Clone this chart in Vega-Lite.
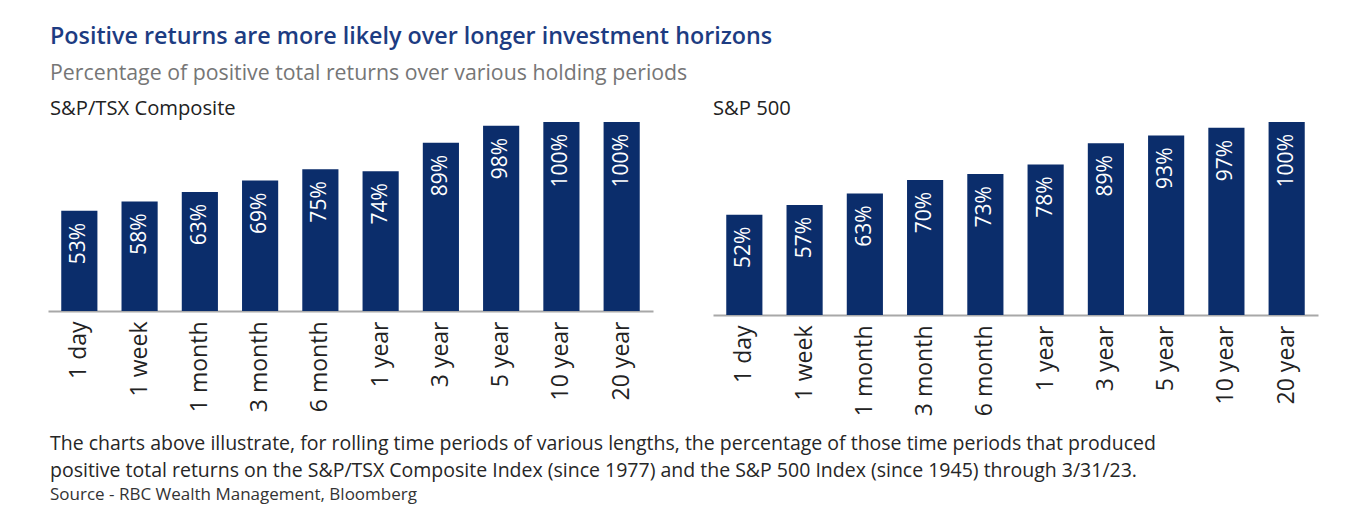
{
  "$schema": "https://vega.github.io/schema/vega-lite/v6.json",
  "background": "white",
  "padding": {"left": 48, "top": 25, "right": 10, "bottom": 5},
  "title": {
    "text": "Positive returns are more likely over longer investment horizons",
    "subtitle": "Percentage of positive total returns over various holding periods",
    "anchor": "start",
    "dx": 2,
    "font": "Open Sans",
    "fontSize": 23.3,
    "fontWeight": 600,
    "color": "#1d3c82",
    "subtitleFont": "Open Sans",
    "subtitleFontSize": 21.3,
    "subtitleColor": "#767676",
    "subtitlePadding": 13,
    "offset": 14
  },
  "datasets": {
    "tsx": [
      {"period": "1 day", "pct": 0.53},
      {"period": "1 week", "pct": 0.58},
      {"period": "1 month", "pct": 0.63},
      {"period": "3 month", "pct": 0.69},
      {"period": "6 month", "pct": 0.75},
      {"period": "1 year", "pct": 0.74},
      {"period": "3 year", "pct": 0.89},
      {"period": "5 year", "pct": 0.98},
      {"period": "10 year", "pct": 1.0},
      {"period": "20 year", "pct": 1.0}
    ],
    "spx": [
      {"period": "1 day", "pct": 0.52},
      {"period": "1 week", "pct": 0.57},
      {"period": "1 month", "pct": 0.63},
      {"period": "3 month", "pct": 0.70},
      {"period": "6 month", "pct": 0.73},
      {"period": "1 year", "pct": 0.78},
      {"period": "3 year", "pct": 0.89},
      {"period": "5 year", "pct": 0.93},
      {"period": "10 year", "pct": 0.97},
      {"period": "20 year", "pct": 1.0}
    ]
  },
  "config": {
    "view": {"stroke": null},
    "axis": {"labelFont": "Open Sans"}
  },
  "vconcat": [
    {
      "title": {
        "text": [
          "The charts above illustrate, for rolling time periods of various lengths, the percentage of those time periods that produced",
          "positive total returns on the S&P/TSX Composite Index (since 1977) and the S&P 500 Index (since 1945) through 3/31/23."
        ],
        "subtitle": "Source - RBC Wealth Management, Bloomberg",
        "orient": "bottom",
        "anchor": "start",
        "dx": 2,
        "font": "Open Sans",
        "fontSize": 19.5,
        "fontWeight": "normal",
        "lineHeight": 27,
        "color": "#262626",
        "subtitleFont": "Open Sans",
        "subtitleFontSize": 17,
        "subtitleFontWeight": 500,
        "subtitleColor": "#333333",
        "subtitlePadding": 6,
        "offset": 19
      },
      "spacing": 60,
      "hconcat": [
        {
          "title": {"text": "S&P/TSX Composite", "anchor": "start", "dx": 2, "font": "Open Sans", "fontSize": 20.2, "fontWeight": 500, "color": "#222222", "offset": 3},
          "width": 605,
          "height": 189,
          "data": {"name": "tsx"},
          "encoding": {
            "x": {
              "field": "period", "type": "nominal", "sort": null,
              "scale": {"paddingInner": 0.4, "paddingOuter": 0.22},
              "axis": {"title": null, "labelAngle": -90, "labelFontSize": 23, "labelColor": "#222222", "domainColor": "#a8a8a8", "domainWidth": 2, "ticks": false, "labelPadding": 10}
            },
            "y": {"field": "pct", "type": "quantitative", "scale": {"domain": [0, 1]}, "axis": null}
          },
          "layer": [
            {"mark": {"type": "bar", "color": "#0b2d6b"}},
            {
              "mark": {"type": "text", "angle": 270, "align": "right", "baseline": "middle", "dx": -12, "color": "white", "fontSize": 21, "font": "Open Sans"},
              "encoding": {"text": {"field": "pct", "type": "quantitative", "format": ".0%"}}
            }
          ]
        },
        {
          "title": {"text": "S&P 500", "anchor": "start", "dx": 0, "font": "Open Sans", "fontSize": 20.2, "fontWeight": 500, "color": "#222222", "offset": 3},
          "width": 605,
          "height": 193,
          "data": {"name": "spx"},
          "encoding": {
            "x": {
              "field": "period", "type": "nominal", "sort": null,
              "scale": {"paddingInner": 0.4, "paddingOuter": 0.22},
              "axis": {"title": null, "labelAngle": -90, "labelFontSize": 23, "labelColor": "#222222", "domainColor": "#a8a8a8", "domainWidth": 2, "ticks": false, "labelPadding": 10}
            },
            "y": {"field": "pct", "type": "quantitative", "scale": {"domain": [0, 1]}, "axis": null}
          },
          "layer": [
            {"mark": {"type": "bar", "color": "#0b2d6b"}},
            {
              "mark": {"type": "text", "angle": 270, "align": "right", "baseline": "middle", "dx": -12, "color": "white", "fontSize": 21, "font": "Open Sans"},
              "encoding": {"text": {"field": "pct", "type": "quantitative", "format": ".0%"}}
            }
          ]
        }
      ]
    }
  ]
}
